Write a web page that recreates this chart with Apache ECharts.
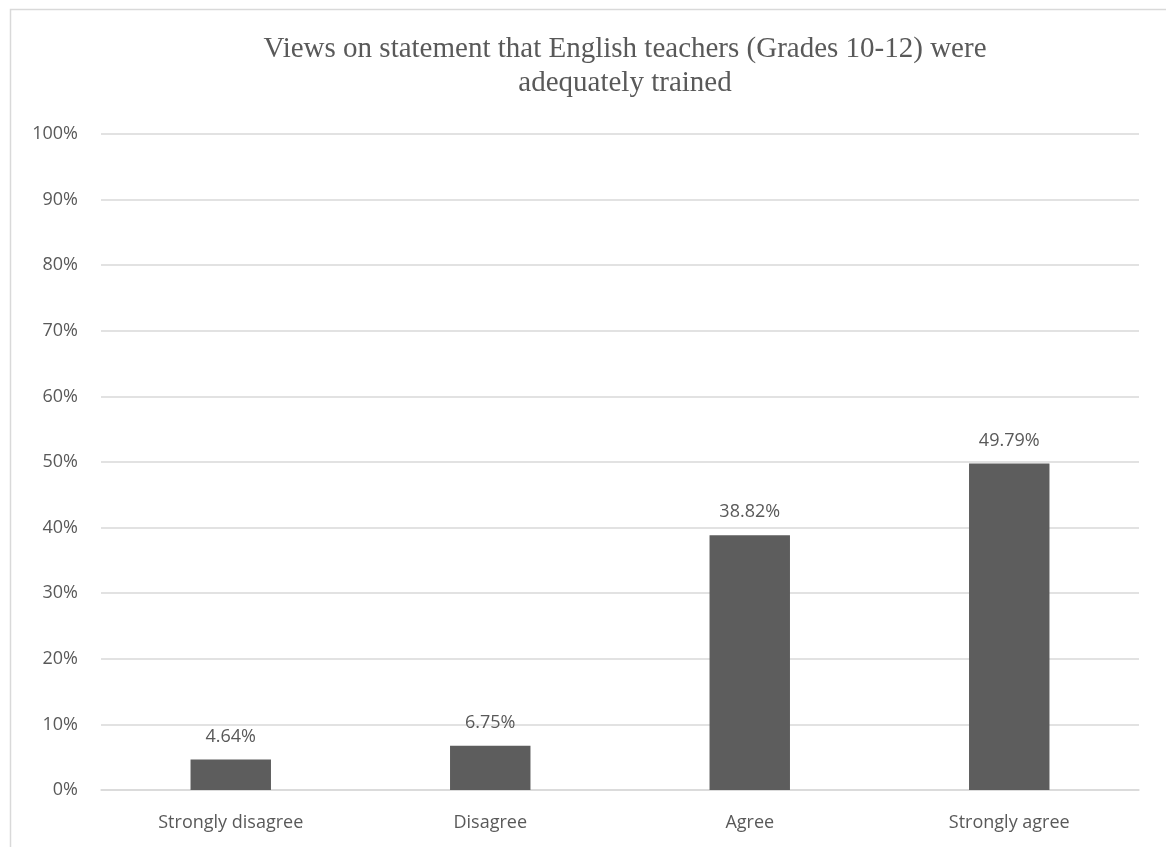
<!DOCTYPE html>
<html>
<head>
<meta charset="utf-8">
<script src="https://cdn.jsdelivr.net/npm/echarts@6/dist/echarts.min.js"></script>
<style>
  html, body { margin: 0; padding: 0; background: #fff; }
  #chart { width: 1166px; height: 847px; }
</style>
</head>
<body>
<div id="chart"></div>
<script>
// Survey responses: share of respondents per answer
const titleText = 'Views on statement that English teachers (Grades 10-12) were\nadequately trained';
const categories = ['Strongly disagree', 'Disagree', 'Agree', 'Strongly agree'];
const shares = [4.64, 6.75, 38.82, 49.79];
const yTicks = { min: 0, max: 100, step: 10 };

const textColor = '#595959';
const sansFont = '"Open Sans", "Noto Sans", sans-serif';
const chart = echarts.init(document.getElementById('chart'));

chart.setOption({
  animation: false,
  backgroundColor: '#ffffff',
  title: {
    text: titleText,
    left: 620,
    textAlign: 'center',
    top: 27,
    textStyle: {
      fontFamily: '"Liberation Serif", "DejaVu Serif", serif',
      fontSize: 29,
      fontWeight: 'normal',
      color: textColor,
      lineHeight: 34
    }
  },
  graphic: [{
    type: 'rect',
    left: 8,
    top: 7,
    shape: { width: 1300, height: 1000 },
    style: { fill: 'none', stroke: '#d9d9d9', lineWidth: 1.5 },
    silent: true,
    z: -1
  }],
  grid: { left: 101, right: 27, top: 134, bottom: 57, containLabel: false },
  xAxis: {
    type: 'category',
    data: categories,
    axisLine: { show: true, lineStyle: { color: '#d9d9d9', width: 1.5 } },
    axisTick: { show: false },
    axisLabel: {
      color: textColor,
      fontFamily: sansFont,
      fontSize: 18,
      margin: 24
    }
  },
  yAxis: {
    type: 'value',
    min: yTicks.min,
    max: yTicks.max,
    interval: yTicks.step,
    axisLine: { show: false },
    axisTick: { show: false },
    splitLine: { lineStyle: { color: '#d9d9d9', width: 1.5 } },
    axisLabel: {
      formatter: '{value}%',
      color: textColor,
      fontFamily: sansFont,
      fontSize: 18,
      margin: 23
    }
  },
  series: [{
    type: 'bar',
    data: shares,
    barWidth: '31%',
    itemStyle: { color: '#5d5d5d' },
    label: {
      show: true,
      position: 'top',
      distance: 14,
      formatter: p => p.value.toFixed(2) + '%',
      color: textColor,
      fontFamily: sansFont,
      fontSize: 18
    }
  }]
});
</script>
</body>
</html>
